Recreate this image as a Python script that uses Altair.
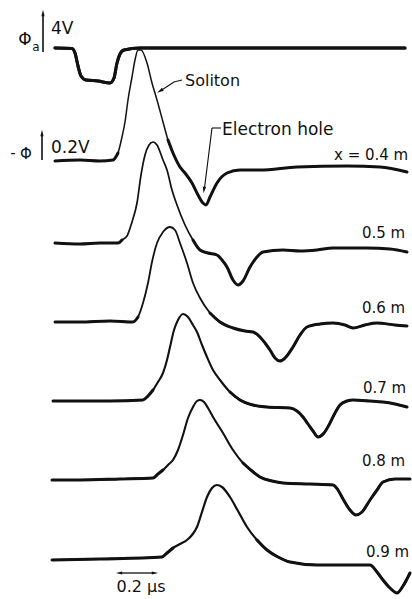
import altair as alt
import pandas as pd

# ---------------------------------------------------------------------------
# Readings (time axis in figure units, 41 units = 0.2 µs;
# signal in figure units, measured downward from the top of the figure)
# ---------------------------------------------------------------------------
phi_a_t = [55, 72, 75, 78, 81, 86, 98, 110, 114, 117, 120, 124, 140, 200, 300, 405]
phi_a_v = [48, 48.5, 53, 66, 76, 80, 81, 83, 78, 63, 54, 50, 48, 48, 48, 48]

trace_names = ["x = 0.4 m", "0.5 m", "0.6 m", "0.7 m", "0.8 m", "0.9 m"]

t04 = [55, 80, 100, 113, 118, 122, 125, 128, 132, 135, 138, 141, 147, 152, 157, 163, 168,
       173, 180, 185, 192, 198, 203, 206, 210, 217, 227, 240, 260, 297, 347, 380, 407]
v04 = [161, 160, 161, 160, 153, 137, 122, 100, 77, 60, 50, 50, 63, 83, 100, 122, 140,
       153, 167, 173, 183, 195, 203, 205, 197, 183, 173, 170, 170, 167, 166, 167, 172]

t05 = [55, 80, 100, 118, 122, 127, 132, 137, 141, 145, 149, 153, 157, 163, 167, 172, 177,
       185, 193, 200, 208, 217, 222, 227, 233, 238, 243, 250, 257, 263, 283, 300, 317, 333,
       367, 390, 407]
v05 = [243, 244, 243, 243, 240, 236, 222, 203, 175, 155, 145, 142, 145, 160, 170, 190, 205,
       225, 240, 250, 253, 255, 260, 267, 280, 285, 281, 267, 257, 252, 250, 251, 250, 248,
       248, 249, 252]

t06 = [55, 80, 110, 133, 138, 143, 148, 152, 157, 163, 170, 175, 180, 187, 193, 200, 210,
       220, 233, 245, 253, 260, 265, 270, 275, 280, 285, 293, 300, 307, 320, 333, 345, 353,
       365, 377, 395, 407]
v06 = [322, 322, 321, 322, 317, 303, 283, 262, 243, 232, 227, 230, 243, 263, 283, 298, 313,
       322, 328, 331, 332, 337, 343, 350, 358, 361, 358, 347, 335, 327, 324, 323, 325, 328,
       325, 323, 325, 326]

t07 = [53, 80, 110, 143, 148, 153, 158, 163, 167, 170, 174, 178, 183, 188, 193, 197, 202,
       207, 213, 220, 230, 240, 253, 267, 290, 297, 303, 308, 313, 318, 324, 330, 335, 340,
       347, 353, 370, 383, 395, 407]
v07 = [401, 401, 401, 400, 396, 390, 382, 373, 360, 347, 330, 320, 314, 317, 325, 332, 345,
       357, 370, 380, 392, 400, 405, 407, 408, 411, 417, 424, 431, 437, 433, 423, 413, 405,
       401, 400, 401, 402, 404, 407]

t08 = [52, 80, 120, 153, 158, 163, 168, 173, 178, 183, 188, 193, 197, 200, 204, 208, 213,
       223, 233, 243, 252, 260, 272, 283, 310, 333, 338, 343, 350, 356, 362, 370, 377, 383,
       395, 410]
v08 = [480, 480, 479, 478, 474, 470, 465, 460, 450, 435, 418, 407, 401, 400, 402, 408, 417,
       433, 450, 463, 471, 477, 481, 483, 484, 485, 490, 499, 510, 515, 512, 500, 490, 482,
       479, 479]

t09 = [52, 100, 162, 167, 173, 180, 187, 192, 197, 202, 207, 212, 217, 222, 230, 238, 247,
       257, 267, 278, 290, 317, 345, 370, 377, 383, 390, 397, 403, 410]
v09 = [560, 559, 557, 553, 548, 544, 540, 535, 527, 512, 497, 488, 485, 487, 497, 511, 527,
       540, 550, 557, 562, 565, 565, 565, 572, 580, 588, 593, 586, 573]

trace_t = [t04, t05, t06, t07, t08, t09]
trace_v = [v04, v05, v06, v07, v08, v09]

# ---------------------------------------------------------------------------
# Styling (kept apart from the data)
# ---------------------------------------------------------------------------
INK = "#111111"
FONT = "DejaVu Sans"
THICK = 3.0
thin_span = [(114, 172), (121, 195), (136, 212), (150, 225), (160, 245), (170, 255)]
thin_width = [1.5, 1.7, 1.8, 2.1, 2.1, 2.2]

rows_all, rows_thick = [], []
for i, (ts, vs) in enumerate(zip(phi_a_t, phi_a_v)):
    rows_all.append(dict(tr="phi_a", t=ts, v=vs, i=i, w=THICK))
    rows_thick.append(dict(seg="phi_a", t=ts, v=vs, i=i))
for k, name in enumerate(trace_names):
    a, b = thin_span[k]
    for i, (ts, vs) in enumerate(zip(trace_t[k], trace_v[k])):
        rows_all.append(dict(tr=name, t=ts, v=vs, i=i, w=thin_width[k]))
        if ts <= a + 4:
            rows_thick.append(dict(seg=name + " pre", t=ts, v=vs, i=i))
        if ts >= b - 4:
            rows_thick.append(dict(seg=name + " post", t=ts, v=vs, i=i))

df_all = pd.DataFrame(rows_all)
df_thick = pd.DataFrame(rows_thick)

xs = alt.Scale(domain=[0, 412], nice=False, zero=False)
ys = alt.Scale(domain=[0, 599], nice=False, zero=False, reverse=True)

thin = alt.Chart(df_all).mark_line(color=INK, interpolate="monotone", strokeCap="round",
                                   strokeJoin="round").encode(
    x=alt.X("t:Q", scale=xs, axis=None),
    y=alt.Y("v:Q", scale=ys, axis=None),
    detail="tr:N",
    order="i:Q",
    strokeWidth=alt.StrokeWidth("w:Q", scale=None),
)

thick = alt.Chart(df_thick).mark_line(color=INK, interpolate="monotone", strokeWidth=THICK,
                                      strokeCap="round", strokeJoin="round").encode(
    x=alt.X("t:Q", scale=xs, axis=None),
    y=alt.Y("v:Q", scale=ys, axis=None),
    detail="seg:N",
    order="i:Q",
)

one = pd.DataFrame({"k": [0]})


def txt(s, x, y, size=15, align="left"):
    return alt.Chart(one).mark_text(text=s, fontSize=size, align=align, baseline="middle",
                                    font=FONT, color=INK).encode(
        x=alt.datum(x, type="quantitative"), y=alt.datum(y, type="quantitative"))


def seg(x1, y1, x2, y2, w=1.1):
    return alt.Chart(one).mark_rule(color=INK, strokeWidth=w).encode(
        x=alt.datum(x1, type="quantitative"), y=alt.datum(y1, type="quantitative"),
        x2=alt.datum(x2), y2=alt.datum(y2))


HEAD = "M0,-1L0.5,1L-0.5,1Z"


def head(x, y, ang, size=45):
    return alt.Chart(one).mark_point(shape=HEAD, filled=True, size=size, angle=ang,
                                     color=INK, opacity=1, strokeWidth=0).encode(
        x=alt.datum(x, type="quantitative"), y=alt.datum(y, type="quantitative"))


label_x = [334, 362, 362, 363, 362, 366]
label_y = [155, 233, 308, 388, 461, 552]

layers = [thin, thick]
for k, name in enumerate(trace_names):
    layers.append(txt(name, label_x[k], label_y[k], size=15))

layers += [
    # Φa and its 4 V scale arrow
    txt("Φ", 25, 40, size=17, align="center"),
    txt("a", 36, 47, size=12, align="center"),
    seg(43, 52, 43, 14, w=1.6), head(43, 13, 0, size=40),
    txt("4V", 51, 29, size=17),
    # -Φ and its 0.2 V scale arrow
    txt("-", 13, 153, size=15, align="center"),
    txt("Φ", 26, 154, size=15, align="center"),
    seg(42, 160, 42, 134, w=1.6), head(42, 133, 0, size=40),
    txt("0.2V", 51, 148, size=17),
    # Soliton annotation
    txt("Soliton", 185, 81, size=16),
    seg(182, 80, 174, 82), seg(174, 82, 161, 90.5), head(160, 91, 238),
    # Electron hole annotation
    txt("Electron hole", 222, 130, size=17),
    seg(221, 128, 212, 128), seg(212, 128, 204.5, 188), head(204, 190, 187),
    # time scale bar
    seg(121, 573, 152, 573, w=1.3), head(119, 573, 270, size=40), head(155, 573, 90, size=40),
    txt("0.2 µs", 141, 587, size=16, align="center"),
]

chart = alt.layer(*layers).properties(
    width=412, height=599, padding=0, autosize="none", background="white"
).configure_view(stroke=None)

chart.save("out.html", embed_options={"renderer": "svg", "actions": False})
